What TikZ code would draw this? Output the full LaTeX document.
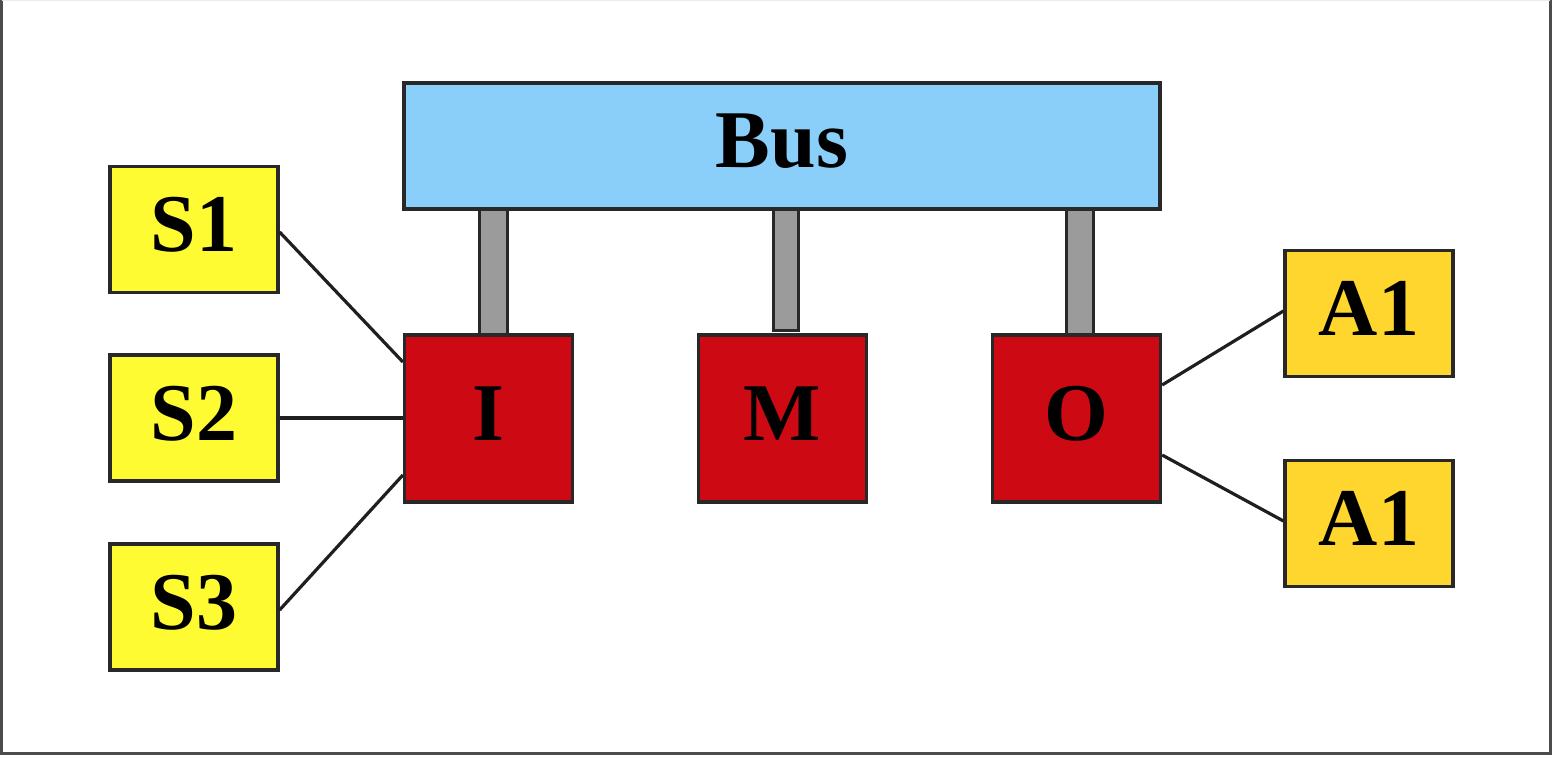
\documentclass[tikz,border=0pt]{standalone}
\usepackage{fontspec}
\setmainfont{Liberation Serif}
\definecolor{busblue}{RGB}{137,207,250}
\definecolor{boxred}{RGB}{205,10,20}
\definecolor{sensyellow}{RGB}{255,251,51}
\definecolor{actgold}{RGB}{255,214,45}
\definecolor{stemgray}{RGB}{155,155,155}
\definecolor{edgegray}{RGB}{40,40,40}
\tikzset{
  blk/.style={draw=edgegray, line width=3.2pt, inner sep=0pt, text depth=10pt, font=\fontsize{82}{90}\selectfont\bfseries},
  busbox/.style={blk, fill=busblue, minimum width=756pt, minimum height=126pt},
  unitbox/.style={blk, fill=boxred, minimum width=168pt, minimum height=167pt},
  sensbox/.style={blk, fill=sensyellow, minimum width=168pt, minimum height=126pt},
  actbox/.style={blk, fill=actgold, minimum width=168pt, minimum height=126pt},
  stembar/.style={draw=edgegray, line width=3pt, fill=stemgray},
  wire/.style={draw=black!88, line width=3.2pt},
  frameline/.style={draw=black!70, line width=3pt}
}
\begin{document}
\begin{tikzpicture}[x=1pt,y=-1pt]
\useasboundingbox (0,0) rectangle (1556,760);
% frame
\draw[frameline] (1.5,0) -- (1.5,753) -- (1550,753) -- (1550,0);
\draw[draw=black!8, line width=1.5pt] (1.5,0.75) -- (1550,0.75);
% stems (behind boxes)
\coordinate (t1) at (493,205);
\coordinate (b1) at (493,335);
\coordinate (t2) at (786,205);
\coordinate (b2) at (786,330);
\coordinate (t3) at (1079.5,205);
\coordinate (b3) at (1079.5,335);
\draw[stembar] ([xshift=-14pt]t1) rectangle ([xshift=14pt]b1);
\draw[stembar] ([xshift=-12.5pt]t2) rectangle ([xshift=12.5pt]b2);
\draw[stembar] ([xshift=-13.5pt]t3) rectangle ([xshift=13.5pt]b3);
% boxes
\node[busbox] (bus) at (782,146) {Bus};
\node[unitbox] (I) at (488.5,418.5) {I};
\node[unitbox] (M) at (782.5,418.5) {M};
\node[unitbox] (O) at (1076.5,418.5) {O};
\node[sensbox] (S1) at (194,229.5) {S1};
\node[sensbox] (S2) at (194,418) {S2};
\node[sensbox] (S3) at (194,607) {S3};
\node[actbox] (A1) at (1369,313.5) {A1};
\node[actbox] (A2) at (1369,523.5) {A1};
% connectors
\draw[wire] (S1.east |- 0,232) -- (I.west |- 0,362);
\draw[wire] (S2.east) -- (I.west |- S2.east);
\draw[wire] (S3.east |- 0,610) -- (I.west |- 0,475);
\draw[wire] (O.east |- 0,385) -- (A1.west |- 0,311);
\draw[wire] (O.east |- 0,455) -- (A2.west |- 0,521);
\end{tikzpicture}
\end{document}
